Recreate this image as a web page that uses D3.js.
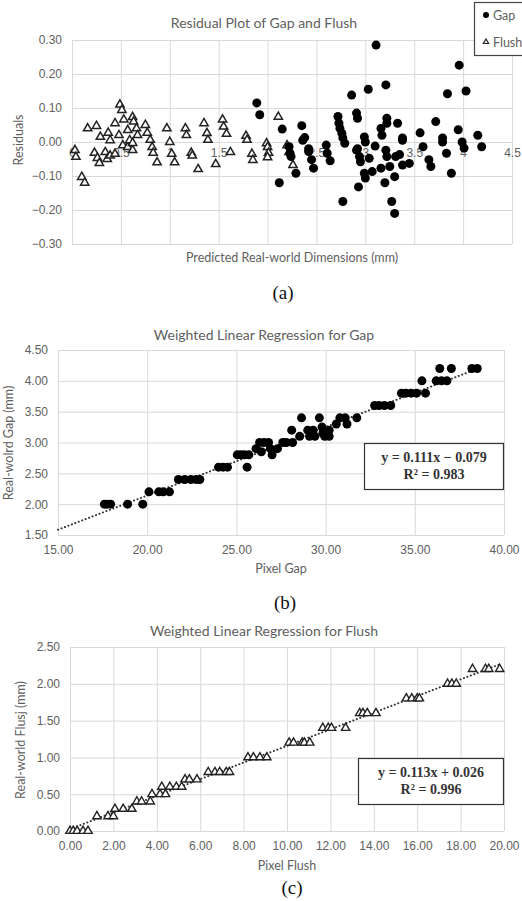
<!DOCTYPE html>
<html lang="en">
<head>
<meta charset="utf-8">
<title>Residual and regression plots for Gap and Flush</title>
<script src="https://d3js.org/d3.v7.min.js"></script>
<style>
  body { margin: 0; background: #fff; }
  svg { display: block; font-family: Lato, "Open Sans", sans-serif; }
  .grid line { stroke: #d9d9d9; stroke-width: 1; }
  .grid path { display: none; }
  .tick text { fill: #606060; font-size: 12px; }
  .title { fill: #606060; font-size: 14px; }
  .axtitle { fill: #606060; font-size: 12.5px; }
  .caption { font-family: "Liberation Serif", "DejaVu Serif", serif; font-size: 19px; fill: #111; }
  .eq { font-family: "Liberation Serif", "DejaVu Serif", serif; font-size: 14px; font-weight: bold; fill: #333; }
  .trend { fill: none; stroke: #333; stroke-width: 2; stroke-dasharray: 0.1 3.6; stroke-linecap: round; }
</style>
</head>
<body>
<script>
// residual plot (a): [predicted, residual]
const residGap = [
  [1.89, 0.115], [1.92, 0.08], [2.12, -0.12], [2.15, 0.038], [2.22, -0.014], [2.23, -0.033], [2.24, -0.043],
  [2.29, -0.092], [2.35, 0.048], [2.36, 0.005], [2.38, 0.013], [2.42, -0.02], [2.42, -0.028], [2.45, -0.052],
  [2.47, -0.077], [2.6, -0.009], [2.61, -0.033], [2.64, -0.055], [2.72, 0.075], [2.73, 0.055], [2.74, 0.04],
  [2.76, 0.026], [2.77, 0.012], [2.79, -0.004], [2.77, -0.175], [2.86, 0.138], [2.91, 0.085], [2.92, 0.07],
  [2.91, -0.024], [2.92, -0.02], [2.93, -0.132], [2.94, -0.043], [2.95, -0.058], [2.99, 0.015], [3.0, 0.0],
  [2.99, -0.092], [3.0, -0.106], [3.03, 0.155], [3.04, -0.048], [3.07, -0.087], [3.1, -0.012], [3.11, 0.285],
  [3.16, 0.04], [3.17, 0.02], [3.16, -0.077], [3.2, -0.12], [3.21, 0.168], [3.22, 0.07], [3.22, 0.055],
  [3.21, -0.024], [3.22, -0.043], [3.25, -0.072], [3.27, -0.175], [3.3, -0.21], [3.3, -0.102], [3.31, -0.043],
  [3.33, 0.055], [3.35, -0.037], [3.38, 0.012], [3.38, -0.068], [3.38, 0.005], [3.45, -0.063], [3.56, 0.027],
  [3.59, -0.014], [3.65, -0.052], [3.67, -0.072], [3.72, 0.06], [3.79, 0.012], [3.79, 0.0], [3.83, -0.033],
  [3.84, 0.142], [3.88, -0.092], [3.95, 0.036], [3.96, 0.226], [3.99, 0.0], [4.01, -0.018], [4.03, 0.15],
  [4.15, 0.02], [4.19, -0.014]
];
const residFlush = [
  [0.03, -0.024], [0.04, -0.044], [0.1, -0.103], [0.13, -0.12], [0.16, 0.04], [0.23, -0.032], [0.25, 0.047],
  [0.26, -0.047], [0.28, -0.062], [0.29, 0.015], [0.34, -0.03], [0.36, -0.05], [0.37, 0.027], [0.39, 0.005],
  [0.39, -0.04], [0.44, 0.055], [0.44, -0.035], [0.48, 0.02], [0.49, 0.11], [0.51, 0.094], [0.52, -0.01],
  [0.53, 0.066], [0.57, 0.035], [0.57, -0.015], [0.59, 0.005], [0.62, 0.073], [0.62, -0.024], [0.62, -0.003],
  [0.63, 0.06], [0.66, 0.04], [0.67, 0.02], [0.75, 0.05], [0.77, 0.027], [0.8, 0.006], [0.82, -0.015],
  [0.83, -0.032], [0.87, -0.06], [0.97, 0.04], [1.0, 0.0], [1.02, -0.035], [1.05, -0.06], [1.16, 0.04],
  [1.17, 0.02], [1.22, -0.032], [1.23, -0.04], [1.29, -0.08], [1.35, 0.055], [1.38, 0.026], [1.39, 0.006],
  [1.47, -0.065], [1.54, 0.066], [1.55, 0.045], [1.58, 0.024], [1.62, -0.03], [1.78, 0.018], [1.79, 0.006],
  [1.84, -0.035], [1.85, -0.053], [1.99, -0.004], [2.0, -0.015], [2.01, -0.032], [2.0, -0.045], [2.11, 0.074],
  [2.2, -0.01], [2.22, -0.03], [2.26, -0.068]
];
const residXTicks = [0, 0.5, 1, 1.5, 2, 2.5, 3, 3.5, 4, 4.5];
const residYTicks = [-0.3, -0.2, -0.1, 0, 0.1, 0.2, 0.3];

// regression (b): [pixel gap, real gap]
const gapPoints = [
  [17.6, 2.0], [17.75, 2.0], [17.95, 2.0], [18.9, 2.0], [19.75, 2.0],
  [20.1, 2.2], [20.65, 2.2], [20.9, 2.2], [21.25, 2.2],
  [21.75, 2.4], [22.1, 2.4], [22.45, 2.4], [22.75, 2.4], [22.95, 2.4],
  [24.0, 2.6], [24.25, 2.6], [24.5, 2.6], [25.6, 2.6],
  [25.05, 2.8], [25.25, 2.8], [25.45, 2.8], [25.7, 2.8],
  [26.1, 2.9], [26.4, 2.85], [26.3, 3.0], [26.55, 3.0], [26.8, 3.0], [26.9, 2.9], [27.0, 2.8],
  [27.3, 2.9], [27.6, 3.0], [27.8, 3.0], [28.15, 3.0], [28.1, 3.2], [28.55, 3.1], [28.65, 3.4],
  [29.0, 3.2], [29.1, 3.1], [29.3, 3.2], [29.4, 3.1], [29.65, 3.4], [29.8, 3.25], [29.85, 3.15],
  [29.95, 3.1], [30.2, 3.2], [30.2, 3.1], [30.6, 3.3], [30.8, 3.4], [31.1, 3.4], [31.2, 3.3], [31.75, 3.4],
  [32.75, 3.6], [33.0, 3.6], [33.3, 3.6], [33.65, 3.6],
  [34.25, 3.8], [34.5, 3.8], [34.8, 3.8], [35.1, 3.8], [35.6, 3.8], [35.4, 4.0],
  [36.2, 4.0], [36.5, 4.0], [36.8, 4.0], [36.4, 4.2], [37.05, 4.2], [38.2, 4.2], [38.5, 4.2]
];
const gapXTicks = [15, 20, 25, 30, 35, 40];
const gapYTicks = [1.5, 2.0, 2.5, 3.0, 3.5, 4.0, 4.5];
const gapFit = { slope: 0.111, intercept: -0.079, from: 15, to: 38.6 };
const gapEq = ["y = 0.111x \u2212 0.079", "R\u00b2 = 0.983"];

// regression (c): [pixel flush, real flush]
const flushPoints = [
  [0.0, 0.0], [0.15, 0.0], [0.33, 0.0], [0.6, 0.0], [0.83, 0.0],
  [1.24, 0.2], [1.75, 0.2], [2.0, 0.2], [2.07, 0.3], [2.45, 0.3], [2.85, 0.3],
  [3.08, 0.4], [3.3, 0.4], [3.7, 0.4], [3.78, 0.5], [4.15, 0.5], [4.4, 0.5],
  [4.23, 0.6], [4.6, 0.6], [4.9, 0.6], [5.15, 0.6], [5.3, 0.7], [5.5, 0.7], [5.85, 0.7],
  [6.37, 0.8], [6.68, 0.8], [6.9, 0.8], [7.2, 0.8], [7.35, 0.8],
  [8.2, 1.0], [8.45, 1.0], [8.75, 1.0], [9.07, 1.0],
  [10.1, 1.2], [10.3, 1.2], [10.7, 1.2], [10.8, 1.2], [11.05, 1.2],
  [11.65, 1.4], [11.9, 1.4], [12.05, 1.4], [12.7, 1.4],
  [13.35, 1.6], [13.5, 1.6], [13.7, 1.6], [14.1, 1.6],
  [15.5, 1.8], [15.75, 1.8], [16.0, 1.8], [16.1, 1.8],
  [17.4, 2.0], [17.6, 2.0], [17.8, 2.0],
  [18.55, 2.2], [19.15, 2.2], [19.3, 2.2], [19.8, 2.2]
];
const flushXTicks = [0, 2, 4, 6, 8, 10, 12, 14, 16, 18, 20];
const flushYTicks = [0, 0.5, 1.0, 1.5, 2.0, 2.5];
const flushFit = { slope: 0.113, intercept: 0.026, from: 0, to: 19.8 };
const flushEq = ["y = 0.113x + 0.026", "R\u00b2 = 0.996"];

const W = 522, H = 901;
const svg = d3.select("body").append("svg").attr("width", W).attr("height", H);

const tri = d3.symbol().type(d3.symbolTriangle).size(30);
const triSmall = d3.symbol().type(d3.symbolTriangle).size(12);

// grid + tick labels for a panel
function frame(x, y, xt, yt, fmtX, fmtY, yLabelX) {
  const [x0, x1] = x.range();
  const [y0, y1] = y.range();
  svg.append("g").attr("class", "grid")
    .attr("transform", `translate(0,${y0})`)
    .call(d3.axisBottom(x).tickValues(xt).tickSize(-(y0 - y1)).tickFormat(""));
  svg.append("g").attr("class", "grid")
    .attr("transform", `translate(${x0},0)`)
    .call(d3.axisLeft(y).tickValues(yt).tickSize(-(x1 - x0)).tickFormat(""));
  const ly = svg.append("g").attr("transform", `translate(${yLabelX},0)`)
    .call(d3.axisLeft(y).tickValues(yt).tickSize(0).tickPadding(0).tickFormat(fmtY));
  ly.select(".domain").remove();
  if (fmtX) {
    const lx = svg.append("g").attr("transform", `translate(0,${y0 + 10})`)
      .call(d3.axisBottom(x).tickValues(xt).tickSize(0).tickPadding(0).tickFormat(fmtX));
    lx.select(".domain").remove();
  }
}

function text(x, y, s, cls, rot) {
  const t = svg.append("text").attr("class", cls).attr("text-anchor", "middle")
    .attr("dominant-baseline", "central").text(s);
  if (rot) t.attr("transform", `translate(${x},${y}) rotate(-90)`);
  else t.attr("x", x).attr("y", y);
  return t;
}

function trend(x, y, fit) {
  const line = d3.line().x(d => x(d)).y(d => y(fit.slope * d + fit.intercept));
  svg.append("path").attr("class", "trend").attr("d", line([fit.from, fit.to]));
}

function eqBox(x0, y0, w, h, lines) {
  svg.append("rect").attr("x", x0).attr("y", y0).attr("width", w).attr("height", h)
    .attr("fill", "#fff").attr("stroke", "#333").attr("stroke-width", 1.2);
  lines.forEach((s, i) => text(x0 + w / 2, y0 + 14 + i * 17, s, "eq"));
}

// ---- (a) residual plot
const xA = d3.scaleLinear().domain([0, 4.5]).range([72, 512]);
const yA = d3.scaleLinear().domain([-0.3, 0.3]).range([244, 40]);
frame(xA, yA, residXTicks, residYTicks, null, d3.format(".2f"), 62);
// x labels sit under the zero line
const lxA = svg.append("g").attr("transform", `translate(0,${yA(0) + 11})`)
  .call(d3.axisBottom(xA).tickValues(residXTicks).tickSize(0).tickPadding(0).tickFormat(d3.format("")));
lxA.select(".domain").remove();
lxA.selectAll("text").attr("dy", "0.32em");

svg.append("g").selectAll("path").data(residFlush).join("path")
  .attr("d", tri).attr("transform", d => `translate(${xA(d[0])},${yA(d[1])})`)
  .attr("fill", "#fff").attr("stroke", "#222").attr("stroke-width", 1.5);
svg.append("g").selectAll("circle").data(residGap).join("circle")
  .attr("cx", d => xA(d[0])).attr("cy", d => yA(d[1])).attr("r", 4.5).attr("fill", "#000");

text(264, 22, "Residual Plot of Gap and Flush", "title");
text(292, 257, "Predicted Real-world Dimensions (mm)", "axtitle");
text(18, 140, "Residuals", "axtitle", true);

// legend
svg.append("rect").attr("x", 474.5).attr("y", 2.5).attr("width", 60).attr("height", 53)
  .attr("fill", "#fff").attr("stroke", "#444").attr("stroke-width", 1.2);
svg.append("circle").attr("cx", 486).attr("cy", 15).attr("r", 3).attr("fill", "#000");
svg.append("path").attr("d", triSmall).attr("transform", "translate(486,42)")
  .attr("fill", "#fff").attr("stroke", "#222").attr("stroke-width", 1.2);
svg.append("text").attr("class", "axtitle").attr("x", 493).attr("y", 15).attr("dominant-baseline", "central").text("Gap");
svg.append("text").attr("class", "axtitle").attr("x", 493).attr("y", 42).attr("dominant-baseline", "central").text("Flush");

text(283, 292, "(a)", "caption");

// ---- (b) gap regression
const xB = d3.scaleLinear().domain([15, 40]).range([58, 504]);
const yB = d3.scaleLinear().domain([1.5, 4.5]).range([535, 350]);
frame(xB, yB, gapXTicks, gapYTicks, d3.format(".2f"), d3.format(".2f"), 48);
trend(xB, yB, gapFit);
svg.append("g").selectAll("circle").data(gapPoints).join("circle")
  .attr("cx", d => xB(d[0])).attr("cy", d => yB(d[1])).attr("r", 4.5).attr("fill", "#000");
eqBox(364.5, 443.5, 139, 46, gapEq);
text(264, 334, "Weighted Linear Regression for Gap", "title");
text(281, 568, "Pixel Gap", "axtitle");
text(8, 443, "Real-wolrd Gap (mm)", "axtitle", true);
text(285, 602, "(b)", "caption");

// ---- (c) flush regression
const xC = d3.scaleLinear().domain([0, 20]).range([70, 504]);
const yC = d3.scaleLinear().domain([0, 2.5]).range([831, 647]);
frame(xC, yC, flushXTicks, flushYTicks, d3.format(".2f"), d3.format(".2f"), 60);
trend(xC, yC, flushFit);
svg.append("g").selectAll("path").data(flushPoints).join("path")
  .attr("d", tri).attr("transform", d => `translate(${xC(d[0])},${yC(d[1])})`)
  .attr("fill", "#fff").attr("stroke", "#222").attr("stroke-width", 1.4);
eqBox(358.5, 758.5, 145, 46, flushEq);
text(264, 630, "Weighted Linear Regression for Flush", "title");
text(287, 865, "Pixel Flush", "axtitle");
text(20, 740, "Real-world Flusj (mm)", "axtitle", true);
text(292, 887, "(c)", "caption");
</script>
</body>
</html>
